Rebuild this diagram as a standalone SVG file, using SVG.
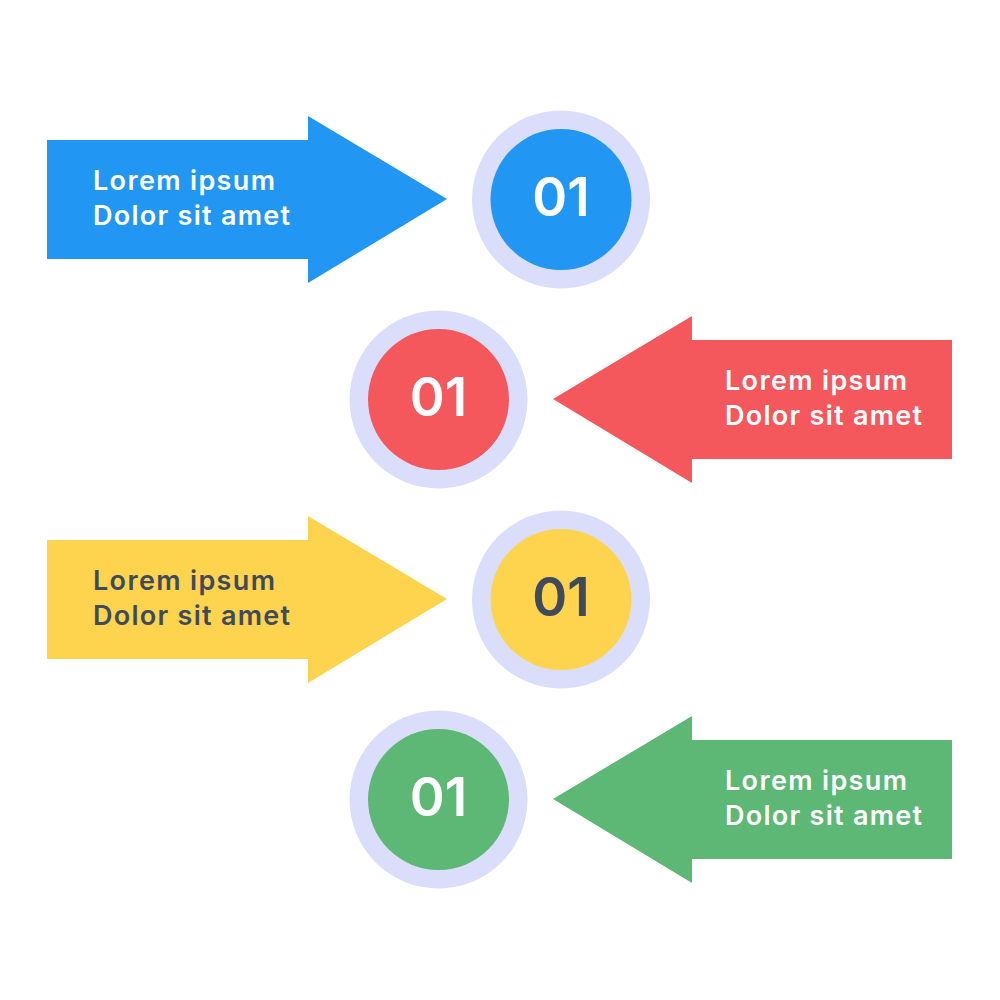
<svg xmlns="http://www.w3.org/2000/svg" width="1000" height="1000" viewBox="0 0 1000 1000">
  <style>
    .lbl { font-family: Inter, "Open Sans", "Liberation Sans", sans-serif; font-weight: 600; font-size: 27px; }
    .num { font-family: Inter, "Open Sans", "Liberation Sans", sans-serif; font-weight: 600; font-size: 53px; text-anchor: middle; }
    .ring { fill: #DADEFA; }
    .white { fill: #FFFFFF; }
    .dark { fill: #3F4B5C; }
    .blue { fill: #2196F3; }
    .red { fill: #F4575C; }
    .yellow { fill: #FED44E; }
    .green { fill: #5DB775; }
  </style>
  <rect width="1000" height="1000" fill="#FFFFFF"/>

  <!-- Row 1: blue -->
  <g id="arrow-1">
    <rect class="blue" x="47" y="140" width="262" height="119"/>
    <polygon class="blue" points="308,116 447,199 308,283"/>
    <text class="lbl white" x="93" y="190" textLength="182" lengthAdjust="spacing">Lorem ipsum</text>
    <text class="lbl white" x="93" y="225" textLength="197" lengthAdjust="spacing">Dolor sit amet</text>
  </g>
  <g id="circle-1">
    <circle class="ring" cx="561" cy="199.5" r="89"/>
    <circle class="blue" cx="561" cy="199.5" r="70.5"/>
    <text class="num white" x="561" y="216">01</text>
  </g>

  <!-- Row 2: red -->
  <g id="arrow-2">
    <rect class="red" x="691" y="340" width="261" height="119"/>
    <polygon class="red" points="692,316 553,399 692,483"/>
    <text class="lbl white" x="725" y="390" textLength="182" lengthAdjust="spacing">Lorem ipsum</text>
    <text class="lbl white" x="725" y="425" textLength="197" lengthAdjust="spacing">Dolor sit amet</text>
  </g>
  <g id="circle-2">
    <circle class="ring" cx="438.5" cy="399.5" r="89"/>
    <circle class="red" cx="438.5" cy="399.5" r="70.5"/>
    <text class="num white" x="438.5" y="416">01</text>
  </g>

  <!-- Row 3: yellow -->
  <g id="arrow-3">
    <rect class="yellow" x="47" y="540" width="262" height="119"/>
    <polygon class="yellow" points="308,516 447,599 308,683"/>
    <text class="lbl dark" x="93" y="590" textLength="182" lengthAdjust="spacing">Lorem ipsum</text>
    <text class="lbl dark" x="93" y="625" textLength="197" lengthAdjust="spacing">Dolor sit amet</text>
  </g>
  <g id="circle-3">
    <circle class="ring" cx="561" cy="599.5" r="89"/>
    <circle class="yellow" cx="561" cy="599.5" r="70.5"/>
    <text class="num dark" x="561" y="616">01</text>
  </g>

  <!-- Row 4: green -->
  <g id="arrow-4">
    <rect class="green" x="691" y="740" width="261" height="119"/>
    <polygon class="green" points="692,716 553,799 692,883"/>
    <text class="lbl white" x="725" y="790" textLength="182" lengthAdjust="spacing">Lorem ipsum</text>
    <text class="lbl white" x="725" y="825" textLength="197" lengthAdjust="spacing">Dolor sit amet</text>
  </g>
  <g id="circle-4">
    <circle class="ring" cx="438.5" cy="799.5" r="89"/>
    <circle class="green" cx="438.5" cy="799.5" r="70.5"/>
    <text class="num white" x="438.5" y="816">01</text>
  </g>

  <g id="connectors"/>
</svg>
